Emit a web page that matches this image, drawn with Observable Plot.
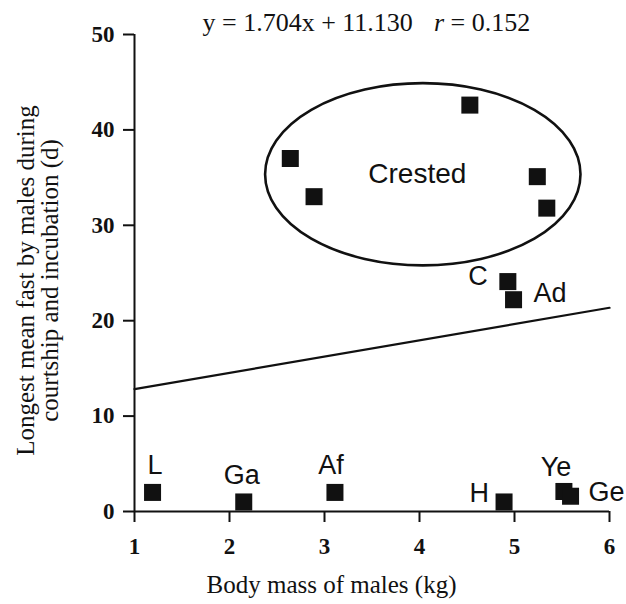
<!DOCTYPE html>
<html>
<head>
<meta charset="utf-8">
<script src="https://cdn.jsdelivr.net/npm/d3@7"></script>
<script src="https://cdn.jsdelivr.net/npm/@observablehq/plot@0.6"></script>
<style>
  html, body { margin: 0; padding: 0; background: #fff; }
</style>
</head>
<body>
<div id="chart"></div>
<script>
// Species codes (crested penguins are grouped and left unlabelled)
const species = ["L", "Ga", "Af", "H", "Ye", "Ge", "C", "Ad", "", "", "", "", ""];
// Body mass of males (kg)
const bodyMass = [1.19, 2.15, 3.11, 4.89, 5.52, 5.59, 4.93, 4.99, 2.64, 2.89, 4.53, 5.24, 5.34];
// Longest mean fast by males during courtship and incubation (d)
const longestFast = [2.0, 1.0, 2.0, 1.0, 2.1, 1.6, 24.1, 22.2, 37.0, 33.0, 42.6, 35.1, 31.8];

const xTicks = [1, 2, 3, 4, 5, 6];
const yTicks = [0, 10, 20, 30, 40, 50];

// Least-squares fit reported above the plot
const slope = 1.704;
const intercept = 11.130;
const corr = 0.152;

// Outline around the crested group
const crested = { label: "Crested", cx: 4.04, cy: 35.3, rx: 1.66, ry: 9.55 };

const xTitle = "Body mass of males (kg)";
const yTitleLines = ["Longest mean fast by males during", "courtship and incubation (d)"];

const points = species.map((s, i) => ({ species: s, mass: bodyMass[i], fast: longestFast[i] }));
const fit = d3.extent(xTicks).map(x => ({ mass: x, fast: slope * x + intercept }));

// Where each species code sits relative to its marker (px)
const labelPlacement = {
  L:  { dx: 2.5, dy: -18, anchor: "middle" },
  Ga: { dx: -2,  dy: -18, anchor: "middle" },
  Af: { dx: -4,  dy: -18, anchor: "middle" },
  H:  { dx: -15, dy: 0.5, anchor: "end" },
  Ye: { dx: -8,  dy: -15, anchor: "middle" },
  Ge: { dx: 18,  dy: 4.5, anchor: "start" },
  C:  { dx: -20, dy: 3.5, anchor: "end" },
  Ad: { dx: 20,  dy: 2.5, anchor: "start" }
};

const SERIF = "'Liberation Serif', 'Times New Roman', serif";
const SANS = "'Liberation Sans', Arial, Helvetica, sans-serif";
const INK = "#111";

const eqText = `y = ${slope.toFixed(3)}x + ${intercept.toFixed(3)}   r = ${corr.toFixed(3)}`;

// Ellipse drawn in data coordinates through the plot's scales
const crestedOutline = (index, scales) => {
  const { x, y } = scales;
  return d3.create("svg:ellipse")
    .attr("cx", x(crested.cx))
    .attr("cy", y(crested.cy))
    .attr("rx", Math.abs(x(crested.cx + crested.rx) - x(crested.cx)))
    .attr("ry", Math.abs(y(crested.cy + crested.ry) - y(crested.cy)))
    .attr("fill", "none")
    .attr("stroke", INK)
    .attr("stroke-width", 2.6)
    .node();
};

const labelMarks = points
  .filter(d => d.species && labelPlacement[d.species])
  .map(d => {
    const p = labelPlacement[d.species];
    return Plot.text([d], {
      x: "mass", y: "fast", text: "species",
      dx: p.dx, dy: p.dy, textAnchor: p.anchor, lineAnchor: "bottom",
      fontFamily: SANS, fontSize: 27, fill: INK
    });
  });

// Two rotated lines for the y-axis title
const yTitleMarks = yTitleLines.map((line, i) => Plot.text([line], {
  text: d => d, frameAnchor: "left", rotate: -90, dx: i === 0 ? -109 : -85, dy: 7.5,
  lineAnchor: "middle", textAnchor: "middle",
  fontFamily: SERIF, fontSize: 25, fill: INK
}));

const chart = Plot.plot({
  width: 626,
  height: 604,
  marginLeft: 134,
  marginRight: 17,
  marginTop: 34,
  marginBottom: 93,
  style: { fontFamily: SERIF, color: INK, background: "#fff", overflow: "visible" },
  x: { domain: [1, 6] },
  y: { domain: [0, 50] },
  marks: [
    Plot.axisX({
      ticks: xTicks, tickSize: 11, tickPadding: 15, strokeWidth: 2,
      tickFormat: d3.format("d"), label: null,
      fontSize: 23, fontWeight: "bold", fontFamily: SERIF
    }),
    Plot.axisY({
      ticks: yTicks, tickSize: 11, tickPadding: 9, strokeWidth: 2,
      tickFormat: d3.format("d"), label: null,
      fontSize: 23, fontWeight: "bold", fontFamily: SERIF
    }),
    Plot.ruleY([0], { x1: 1, x2: 6, strokeWidth: 2, stroke: INK }),
    Plot.ruleX([1], { y1: 0, y2: 50, strokeWidth: 2, stroke: INK }),
    Plot.line(fit, { x: "mass", y: "fast", stroke: INK, strokeWidth: 2.2 }),
    crestedOutline,
    Plot.text([crested], {
      x: "cx", y: "cy", text: "label", dx: -6, dy: 8, lineAnchor: "bottom",
      fontFamily: SANS, fontSize: 28, fill: INK
    }),
    Plot.dot(points, {
      x: "mass", y: "fast", symbol: "square", r: 9.6, fill: INK, stroke: "none"
    }),
    ...labelMarks,
    Plot.text([eqText], {
      text: d => d, frameAnchor: "top-left", dx: 68, dy: -4,
      textAnchor: "start", lineAnchor: "bottom",
      fontFamily: SERIF, fontSize: 26, fill: INK
    }),
    Plot.text([xTitle], {
      text: d => d, frameAnchor: "bottom", dx: -40.5, dy: 81, lineAnchor: "bottom",
      fontFamily: SERIF, fontSize: 25, fill: INK
    }),
    ...yTitleMarks
  ]
});

// Set the correlation symbol in italics within the equation line
const eqNode = [...chart.querySelectorAll("text")].find(n => n.textContent === eqText);
if (eqNode) {
  const ns = "http://www.w3.org/2000/svg";
  eqNode.textContent = "";
  eqNode.setAttribute("style", "white-space: pre");
  const parts = [
    { t: `y = ${slope.toFixed(3)}x + ${intercept.toFixed(3)}` },
    { t: "r", italic: true, dx: 21 },
    { t: ` = ${corr.toFixed(3)}` }
  ];
  for (const p of parts) {
    const ts = document.createElementNS(ns, "tspan");
    ts.textContent = p.t;
    if (p.italic) ts.setAttribute("font-style", "italic");
    if (p.dx) ts.setAttribute("dx", p.dx);
    eqNode.appendChild(ts);
  }
}

document.getElementById("chart").appendChild(chart);
</script>
</body>
</html>
